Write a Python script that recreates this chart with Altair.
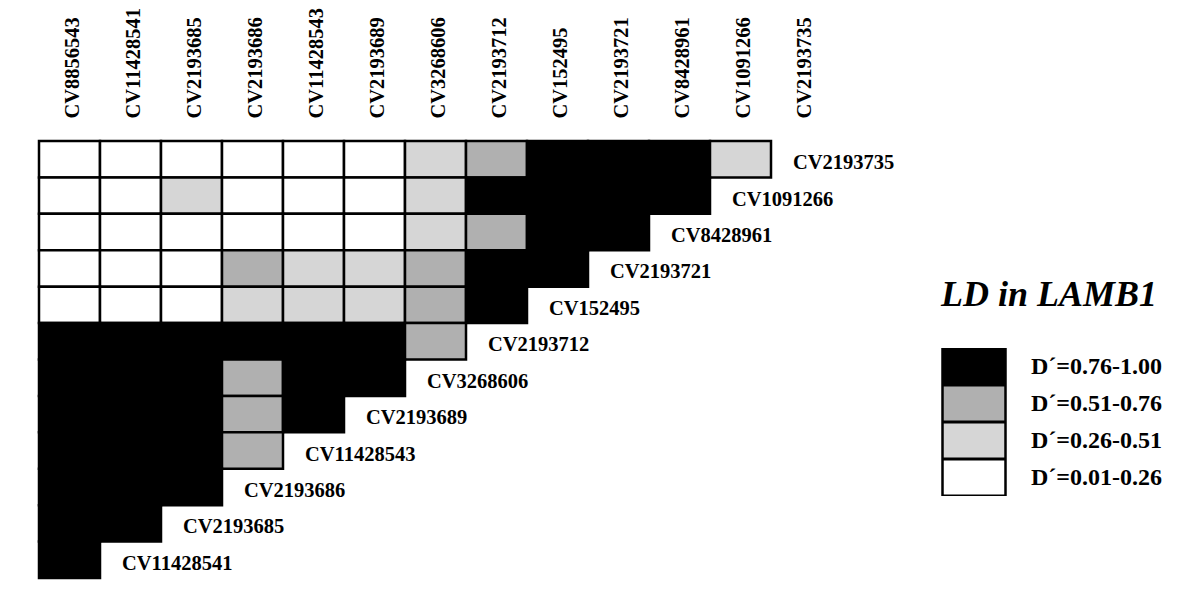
import altair as alt
import pandas as pd

# SNPs in order (columns left to right)
snps = ["CV8856543", "CV11428541", "CV2193685", "CV2193686", "CV11428543",
        "CV2193689", "CV3268606", "CV2193712", "CV152495", "CV2193721",
        "CV8428961", "CV1091266", "CV2193735"]

# LD classes
classes = ["D´=0.76-1.00", "D´=0.51-0.76", "D´=0.26-0.51", "D´=0.01-0.26"]
class_colors = ["#000000", "#b0b0b0", "#d6d6d6", "#ffffff"]

# rows (top to bottom) and the class index of each cell (0=black ... 3=white)
row_snps = ["CV2193735", "CV1091266", "CV8428961", "CV2193721", "CV152495",
            "CV2193712", "CV3268606", "CV2193689", "CV11428543", "CV2193686",
            "CV2193685", "CV11428541"]
row_cells = [
    [3, 3, 3, 3, 3, 3, 2, 1, 0, 0, 0, 2],
    [3, 3, 2, 3, 3, 3, 2, 0, 0, 0, 0],
    [3, 3, 3, 3, 3, 3, 2, 1, 0, 0],
    [3, 3, 3, 1, 2, 2, 1, 0, 0],
    [3, 3, 3, 2, 2, 2, 1, 0],
    [0, 0, 0, 0, 0, 0, 1],
    [0, 0, 0, 1, 0, 0],
    [0, 0, 0, 1, 0],
    [0, 0, 0, 1],
    [0, 0, 0],
    [0, 0],
    [0],
]

cells = []
labels = []
for r, vals in zip(row_snps, row_cells):
    for i, v in enumerate(vals):
        cells.append({"row": r, "col": snps[i], "cls": classes[v]})
    labels.append({"row": r, "col": snps[len(vals)], "text": r})
cells_df = pd.DataFrame(cells)
labels_df = pd.DataFrame(labels)

FONT = "Liberation Serif"
LABEL_SIZE = 20.5

xscale = alt.Scale(domain=snps, paddingInner=0, paddingOuter=0)
yscale = alt.Scale(domain=row_snps, paddingInner=0, paddingOuter=0)

rect_path = "M-1,-0.583L1,-0.583L1,0.583L-1,0.583Z"

heat = alt.Chart(cells_df).mark_rect(stroke="black", strokeWidth=2.5).encode(
    x=alt.X("col:N", scale=xscale, sort=snps,
            axis=alt.Axis(orient="top", labelAngle=-90, labelAlign="left",
                          labelBaseline="middle", domain=False, ticks=False,
                          labelPadding=23, labelOffset=3, labelFont=FONT,
                          labelFontWeight="bold", labelFontSize=LABEL_SIZE,
                          labelColor="black", title=None)),
    y=alt.Y("row:N", scale=yscale, sort=row_snps, axis=None),
    fill=alt.Fill("cls:N",
                  scale=alt.Scale(domain=classes, range=class_colors),
                  legend=alt.Legend(orient="none", legendX=902, legendY=137,
                                    title="LD in LAMB1", titleFont=FONT,
                                    titleFontSize=36, titleFontStyle="italic",
                                    titleFontWeight="bold", titleColor="black",
                                    titlePadding=34, titleLimit=400,
                                    labelFont=FONT, labelFontSize=24,
                                    labelFontWeight="bold", labelColor="black",
                                    labelOffset=24, labelLimit=400,
                                    symbolType=rect_path, symbolSize=3969,
                                    symbolStrokeColor="black",
                                    symbolStrokeWidth=2.5, symbolOpacity=1,
                                    clipHeight=37, rowPadding=0, padding=0)),
)

text = alt.Chart(labels_df).mark_text(
    align="left", baseline="middle", dx=-8.5, dy=4,
    font=FONT, fontSize=LABEL_SIZE, fontWeight="bold", color="black"
).encode(
    x=alt.X("col:N", scale=xscale, sort=snps),
    y=alt.Y("row:N", scale=yscale, sort=row_snps),
    text="text:N",
)

chart = alt.layer(heat, text).properties(
    width=793, height=437,
    padding={"left": 31, "top": 133, "right": 360, "bottom": 14},
    autosize=alt.AutoSizeParams(type="none"),
    background="white",
).configure_view(strokeWidth=0)

chart.save("out.html", embed_options={"renderer": "svg", "actions": False})
